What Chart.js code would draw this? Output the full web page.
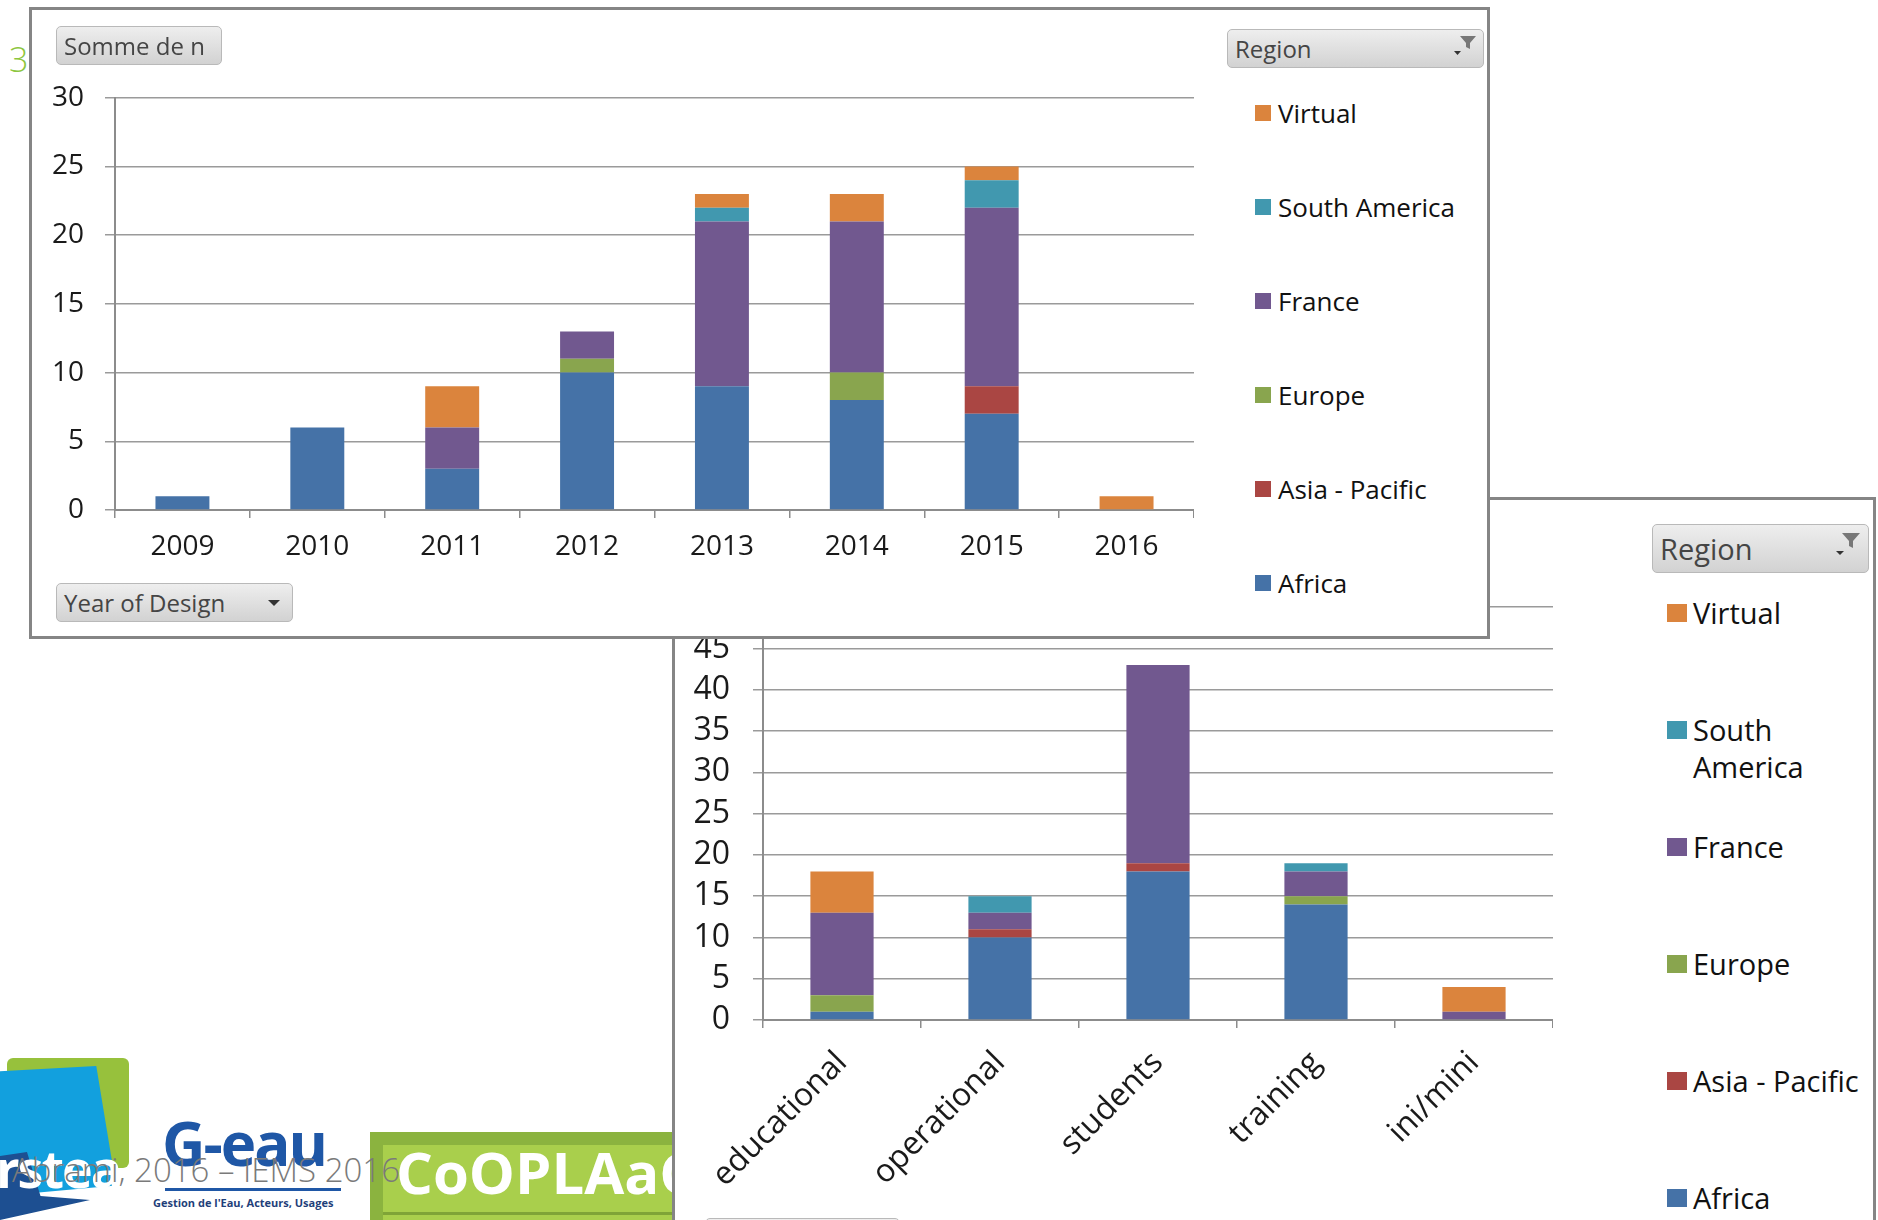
<!DOCTYPE html>
<html lang="fr">
<head>
    <meta charset="UTF-8">
    <title>Somme de n par Region</title>
    <style>
        body {
            margin: 0;
            width: 1878px;
            height: 1220px;
            overflow: hidden;
            position: relative;
            background: #fff;
            font-family: 'Open Sans', sans-serif;
        }
        .panel {
            position: absolute;
            box-sizing: border-box;
            background: #fff;
            border: 3px solid #858585;
        }
        .field-btn {
            position: absolute;
            box-sizing: border-box;
            border: 1px solid #b9b9b9;
            border-radius: 5px;
            background: linear-gradient(#eeeeee, #d2d2d2);
            color: #454545;
            font-size: 24px;
            padding-left: 7px;
            display: flex;
            align-items: center;
            white-space: nowrap;
        }
        .field-btn svg {
            position: absolute;
            right: 4px;
            top: 4px;
        }
        .chart-box {
            position: absolute;
        }
        .legend {
            position: absolute;
        }
        .legend-item {
            display: flex;
            color: #111;
        }
        .swatch {
            flex: none;
        }
        .logo {
            position: absolute;
        }
    </style>
    <script src="https://cdn.jsdelivr.net/npm/chart.js"></script>
</head>
<body>

    <!-- slide decoration, lying under the two pivot charts -->
    <div class="logo" style="left:9px; top:36px; font-size:34px; color:#8dc63f; font-weight:300; z-index:1;">3</div>
    <div class="logo" style="left:7px; top:1058px; width:122px; height:110px; background:#97c13c; border-radius:6px; z-index:1;"></div>
    <div class="logo" style="left:0; top:1066px; width:116px; height:130px; background:#12a0de; clip-path:polygon(0 4%, 83% 0, 100% 92%, 0 100%); z-index:1;"></div>
    <div class="logo" style="left:0; top:1140px; width:90px; height:80px; background:#1d4f91; clip-path:polygon(0 20%, 30% 15%, 45% 70%, 100% 75%, 0 100%); z-index:1;"></div>
    <div class="logo" style="left:-4px; top:1132px; font-size:52px; font-weight:700; color:#fff; letter-spacing:-2px; z-index:1;">rstea</div>
    <div class="logo" style="left:162px; top:1102px; font-size:60px; font-weight:700; color:#1f57a6; letter-spacing:-2px; z-index:1;">G-eau</div>
    <div class="logo" style="left:165px; top:1188px; width:176px; height:3px; background:#1f57a6; z-index:1;"></div>
    <div class="logo" style="left:153px; top:1195px; font-size:11px; font-weight:700; color:#1f3f7a; z-index:1;">Gestion de l'Eau, Acteurs, Usages</div>
    <div class="logo" style="left:370px; top:1132px; width:310px; height:90px; background:#8bb33f; z-index:1;"></div>
    <div class="logo" style="left:383px; top:1145px; width:300px; height:80px; background:#a9cf4c; z-index:1;"></div>
    <div class="logo" style="left:383px; top:1212px; width:300px; height:3px; background:#7fa437; z-index:1;"></div>
    <div class="logo" style="left:396px; top:1132px; font-size:58px; font-weight:700; color:#fff; z-index:1;">CoOPLAaGE</div>
    <div class="logo" style="left:12px; top:1147px; font-size:33px; font-weight:300; color:#7a7a7a; z-index:1;">Abrami, 2016 – IEMS 2016</div>

    <!-- second chart: usage type -->
    <div class="panel" style="left:672px; top:497px; width:1204px; height:760px; z-index:2;"></div>
    <div class="chart-box" style="left:683px; top:565px; width:870px; height:645px; z-index:3;">
        <canvas id="usageChart" width="870" height="645"></canvas>
    </div>
    <div class="field-btn" style="left:1652px; top:524px; width:217px; height:49px; font-size:29px; z-index:3;">Region
        <svg width="34" height="30" viewBox="0 0 34 30"><path d="M12 4 L30 4 L23 12 L23 19 L19 17 L19 12 Z" fill="#777"/><path d="M6 22 L14 22 L10 26 Z" fill="#333"/></svg>
    </div>
    <div class="legend" id="usageLegend" style="left:1667px; top:594px; z-index:3;"></div>
    <div class="field-btn" style="left:705px; top:1218px; width:195px; height:40px; z-index:3;"></div>

    <!-- first chart: year of design -->
    <div class="panel" style="left:29px; top:7px; width:1461px; height:632px; z-index:4;"></div>
    <div class="chart-box" style="left:45px; top:60px; width:1149px; height:510px; z-index:5;">
        <canvas id="yearChart" width="1149" height="510"></canvas>
    </div>
    <div class="field-btn" style="left:56px; top:26px; width:166px; height:39px; z-index:5;">Somme de n</div>
    <div class="field-btn" style="left:56px; top:583px; width:237px; height:39px; z-index:5;">Year of Design
        <svg width="26" height="30" viewBox="0 0 26 30"><path d="M6 12 L18 12 L12 18 Z" fill="#333"/></svg>
    </div>
    <div class="field-btn" style="left:1227px; top:29px; width:257px; height:39px; z-index:5;">Region
        <svg width="30" height="26" viewBox="0 0 30 26"><path d="M11 2 L27 2 L21 9 L21 15 L17 13 L17 9 Z" fill="#777"/><path d="M5 17 L12 17 L8.5 21 Z" fill="#333"/></svg>
    </div>
    <div class="legend" id="yearLegend" style="left:1255px; top:66px; z-index:5;"></div>

    <script>
        // regions, bottom of the stack first
        const regions = ['Africa', 'Asia - Pacific', 'Europe', 'France', 'South America', 'Virtual'];
        const regionColors = ['#4572a7', '#aa4643', '#89a54e', '#71588f', '#4198af', '#db843d'];

        // chart 1: count by year of design
        const years = ['2009', '2010', '2011', '2012', '2013', '2014', '2015', '2016'];
        const africaByYear = [1, 6, 3, 10, 9, 8, 7, 0];
        const asiaPacificByYear = [0, 0, 0, 0, 0, 0, 2, 0];
        const europeByYear = [0, 0, 0, 1, 0, 2, 0, 0];
        const franceByYear = [0, 0, 3, 2, 12, 11, 13, 0];
        const southAmericaByYear = [0, 0, 0, 0, 1, 0, 2, 0];
        const virtualByYear = [0, 0, 3, 0, 1, 2, 1, 1];
        const yearTicksMax = 30;

        // chart 2: count by type of use
        const usages = ['educational', 'operational', 'students', 'training', 'ini/mini'];
        const africaByUsage = [1, 10, 18, 14, 0];
        const asiaPacificByUsage = [0, 1, 1, 0, 0];
        const europeByUsage = [2, 0, 0, 1, 0];
        const franceByUsage = [10, 2, 24, 3, 1];
        const southAmericaByUsage = [0, 2, 0, 1, 0];
        const virtualByUsage = [5, 0, 0, 0, 3];
        const usageTicksMax = 50;

        Chart.defaults.font.family = "'Open Sans', sans-serif";
        Chart.defaults.color = '#1a1a1a';

        function makeDatasets(series) {
            return regions.map((name, i) => ({
                label: name,
                data: series[i],
                backgroundColor: regionColors[i],
                borderWidth: 0,
                barPercentage: 0.4,
                categoryPercentage: 1
            }));
        }

        function buildChart(canvasId, labels, series, cfg) {
            const ctx = document.getElementById(canvasId).getContext('2d');
            return new Chart(ctx, {
                type: 'bar',
                data: { labels: labels, datasets: makeDatasets(series) },
                options: {
                    responsive: false,
                    animation: false,
                    devicePixelRatio: 1,
                    layout: { padding: 0 },
                    plugins: { legend: { display: false }, tooltip: { enabled: false } },
                    scales: {
                        x: {
                            stacked: true,
                            grid: {
                                drawOnChartArea: false,
                                drawTicks: true,
                                tickLength: 8,
                                color: '#8c8c8c',
                                lineWidth: 1.5
                            },
                            border: { display: true, color: '#8c8c8c', width: 2 },
                            ticks: {
                                font: { size: cfg.fontSize },
                                padding: cfg.xPadding,
                                minRotation: cfg.rotation,
                                maxRotation: cfg.rotation,
                                autoSkip: false
                            },
                            afterFit: (scale) => { scale.height = cfg.xHeight; }
                        },
                        y: {
                            stacked: true,
                            min: 0,
                            max: cfg.max,
                            grid: {
                                color: '#9a9a9a',
                                lineWidth: 1.5,
                                drawTicks: true,
                                tickLength: 10
                            },
                            border: { display: true, color: '#8c8c8c', width: 2 },
                            ticks: {
                                stepSize: 5,
                                autoSkip: false,
                                font: { size: cfg.fontSize },
                                padding: cfg.yPadding
                            },
                            afterFit: (scale) => { scale.width = cfg.yWidth; }
                        }
                    }
                }
            });
        }

        // Excel-like legend, top of the stack first
        function buildLegend(id, itemHeight, fontSize, swatch, textWidth) {
            const box = document.getElementById(id);
            for (let i = regions.length - 1; i >= 0; i--) {
                const item = document.createElement('div');
                item.className = 'legend-item';
                item.style.height = itemHeight + 'px';
                item.style.fontSize = fontSize + 'px';
                item.style.lineHeight = swatch.line + 'px';
                const sw = document.createElement('div');
                sw.className = 'swatch';
                sw.style.width = swatch.w + 'px';
                sw.style.height = swatch.h + 'px';
                sw.style.marginTop = ((swatch.line - swatch.h) / 2) + 'px';
                sw.style.marginRight = swatch.gap + 'px';
                sw.style.background = regionColors[i];
                const txt = document.createElement('div');
                txt.style.width = textWidth + 'px';
                txt.textContent = regions[i];
                item.appendChild(sw);
                item.appendChild(txt);
                box.appendChild(item);
            }
        }

        buildChart('yearChart', years,
            [africaByYear, asiaPacificByYear, europeByYear, franceByYear, southAmericaByYear, virtualByYear],
            { fontSize: 28, max: yearTicksMax, rotation: 0, xHeight: 60, yWidth: 70, xPadding: 12, yPadding: 21 });

        buildChart('usageChart', usages,
            [africaByUsage, asiaPacificByUsage, europeByUsage, franceByUsage, southAmericaByUsage, virtualByUsage],
            { fontSize: 32, max: usageTicksMax, rotation: 45, xHeight: 190, yWidth: 80, xPadding: 16, yPadding: 23 });

        buildLegend('yearLegend', 94, 26, { w: 16, h: 16, gap: 7, line: 94 }, 210);
        buildLegend('usageLegend', 117, 29, { w: 20, h: 18, gap: 6, line: 37 }, 176);
    </script>

</body>
</html>
